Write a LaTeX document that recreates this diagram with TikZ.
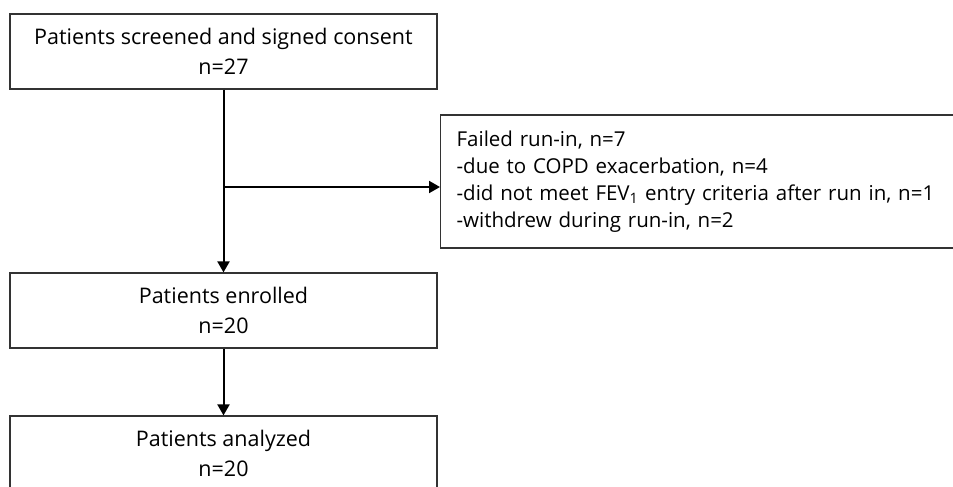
\documentclass[tikz,border=0pt]{standalone}
\usepackage{fontspec}
\setmainfont{Open Sans}
\usetikzlibrary{positioning,arrows.meta}
\begin{document}
\begin{tikzpicture}[x=1pt,y=-1pt,
  box/.style={draw=black!80, line width=1.2pt, minimum width=427pt, minimum height=75pt,
    align=center, font=\fontsize{21.5}{30}\selectfont},
  arr/.style={line width=2pt, -{Triangle[length=11pt,width=12pt]}}]
\useasboundingbox (0,0) rectangle (953,487);
\clip (0,0) rectangle (953,487);

% Main flow
\node[box] (screen) at (223.5,51.5) {Patients screened and signed consent\\n=27};
\node[box] (enrol) at (223.5,310.5) {Patients enrolled\\n=20};
\node[box] (anal) at (223.5,453.5) {Patients analyzed\\n=20};

% Exclusions (box runs off the right edge)
\node[box, anchor=west, align=left, text width=500pt, minimum height=133pt, inner xsep=16pt,
  font=\fontsize{20.5}{27}\selectfont] (fail) at (440,181.5)
  {Failed run-in, n=7\\-due to COPD exacerbation, n=4\\-did not meet FEV\textsubscript{1} entry criteria after run in, n=1\\-withdrew during run-in, n=2};

% Arrows
\coordinate (split) at (223.5,187);
\draw[arr] (screen) -- (enrol);
\draw[arr] (split) -- (split -| fail.west);
\draw[arr] (enrol) -- (anal);

\end{tikzpicture}
\end{document}
